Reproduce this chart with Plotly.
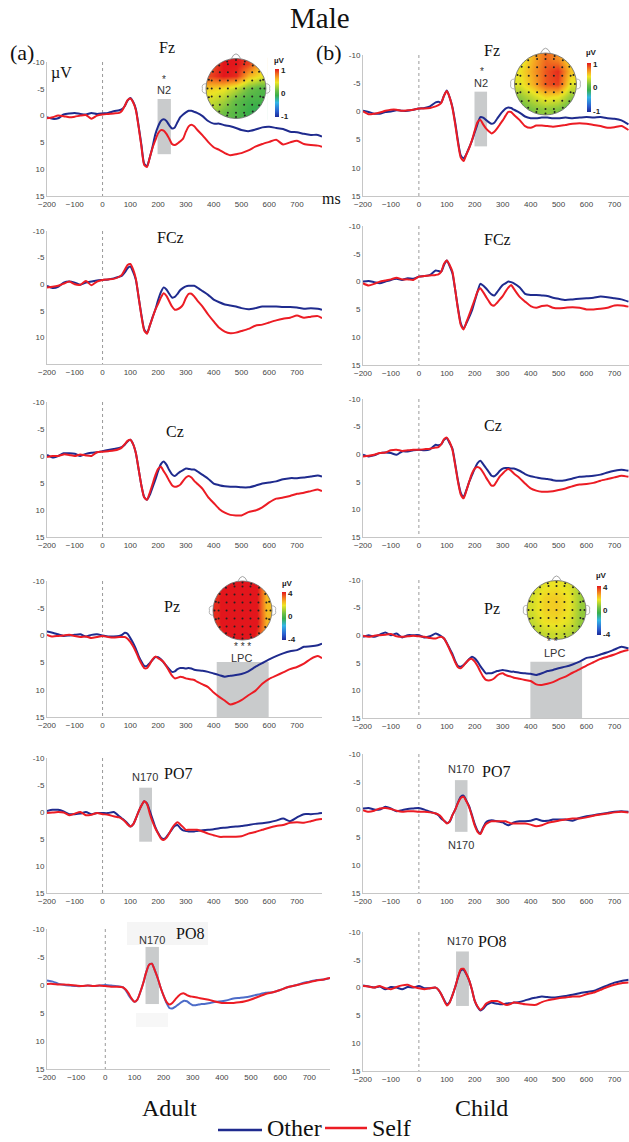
import numpy as np
import plotly.graph_objects as go

W, H = 629, 1142
N = None

# ---------------- time axis (ms) ----------------
T = [-200, -180, -160, -140, -120, -100, -80, -60, -40, -20,
     0, 20, 40,
     60, 70, 80, 90, 100, 110, 120, 130, 140, 150, 160, 170, 180, 190, 200,
     210, 220, 230, 240, 250, 260, 270, 280, 290, 300, 310, 320, 330, 340,
     360, 380, 400, 420, 440, 460, 480, 500,
     525, 550, 575, 600, 625, 650, 675, 700, 725, 750, 775, 790]

# ---------------- (a) Adult ----------------
adult_Fz_other = [0.3, 0.6, 0.5, -0.2, -0.4, -0.5, -0.3, -0.2, -0.5, -0.3,
                  -0.4, -0.5, -0.8,
                  -1.0, -1.2, -1.8, -2.8, -3.3, -2.6, -1.2, 2.0, 5.5, 9.0, 9.4, 7.8, 5.8, 3.5, 2.0,
                  1.0, 0.7, 1.0, 1.8, 2.4, 2.2, 1.2, 0.3, -0.2, -0.6, -0.9, -0.9, -0.7, -0.5,
                  0.1, 1.0, 1.5, 1.5, 1.8, 2.0, 2.3, 2.7,
                  2.9, 2.6, 2.2, 2.1, 2.3, 2.5, 3.0, 3.1, 3.4, 3.6, 3.6, 3.9]
adult_Fz_self = [0.5, 0.3, 0.0, 0.1, 0.3, 0.2, 0.0, -0.1, 0.6, 0.0,
                 -0.2, -0.3, -0.4,
                 -0.5, -0.9, -1.8, -2.9, -3.2, -2.5, -1.0, 2.2, 5.8, 9.2, 9.6, 7.8, 6.0, 4.6, 3.3,
                 2.7, 2.8, 3.4, 4.3, 5.3, 5.5, 5.2, 4.8, 4.3, 3.0, 2.0, 1.7, 2.0, 2.6,
                 3.7, 4.9, 5.9, 6.4, 7.0, 7.4, 7.2, 7.0,
                 6.5, 5.8, 5.3, 4.9, 4.5, 5.4, 5.0, 4.7, 5.3, 5.5, 5.6, 5.8]
adult_FCz_other = [0.3, 0.7, 0.5, -0.3, -0.5, -0.3, 0.1, -0.3, -0.5, -0.7,
                   -0.8, -0.9, -1.1,
                   -1.4, -1.6, -2.2, -3.0, -3.3, -2.3, -0.8, 2.5, 5.8, 8.5, 9.2, 7.8, 6.2, 4.8, 3.0,
                   1.5, 0.6, 1.0, 1.8, 2.5, 2.4, 1.8, 1.1, 0.7, 0.4, 0.3, 0.3, 0.3, 0.6,
                   1.3, 2.0, 2.9, 3.4, 3.8, 4.0, 4.2, 4.5,
                   4.7, 4.5, 4.2, 4.2, 4.2, 4.3, 4.3, 4.4, 4.6, 4.5, 4.6, 4.8]
adult_FCz_self = [0.6, 0.5, 0.3, -0.1, -0.5, 0.0, 0.1, -0.6, 0.2, -0.5,
                  -0.8, -0.9, -1.0,
                  -1.4, -1.8, -2.7, -3.6, -3.8, -2.8, -1.0, 2.5, 6.0, 8.7, 9.3, 7.8, 6.3, 4.8, 3.7,
                  2.5, 1.7, 2.2, 3.2, 4.2, 4.8, 4.7, 4.4, 3.8, 2.6, 1.8, 1.8, 2.3, 3.0,
                  4.2, 5.7, 7.0, 8.2, 8.9, 9.2, 9.1, 8.8,
                  8.4, 7.8, 7.6, 7.2, 6.8, 6.5, 6.3, 5.9, 6.3, 6.1, 6.0, 6.4]
adult_Cz_other = [-0.2, 0.3, 0.0, -0.5, -0.5, -0.4, 0.0, -0.4, -0.6, -0.7,
                  -0.9, -1.1, -1.3,
                  -1.5, -1.7, -2.1, -2.7, -3.0, -2.2, -0.5, 2.5, 5.5, 7.6, 8.1, 7.2, 5.8, 4.4, 2.8,
                  1.5, 1.0, 1.6, 2.6, 3.4, 3.7, 3.3, 2.9, 2.6, 2.3, 2.4, 2.5, 2.5, 2.8,
                  3.5, 4.2, 5.1, 5.4, 5.6, 5.7, 5.7, 5.8,
                  5.8, 5.5, 5.1, 4.9, 4.7, 4.3, 4.1, 4.1, 4.0, 3.8, 3.6, 3.8]
adult_Cz_self = [0.2, 0.0, 0.0, -0.3, -0.2, 0.0, -0.3, -0.1, 0.0, -0.7,
                 -0.8, -0.9, -1.0,
                 -1.3, -1.6, -2.2, -2.8, -3.0, -2.2, -0.5, 2.5, 5.5, 7.7, 8.1, 6.8, 5.2, 3.6, 2.4,
                 2.0, 2.8, 3.6, 4.6, 5.4, 5.7, 5.6, 5.3, 4.6, 4.0, 3.7, 4.0, 4.6, 5.1,
                 6.1, 7.6, 8.7, 9.8, 10.5, 10.9, 11.0, 11.0,
                 10.4, 10.1, 9.5, 8.6, 7.9, 7.7, 7.4, 7.0, 6.8, 6.5, 6.2, 6.5]
adult_Pz_other = [-0.7, -0.5, -0.2, 0.1, 0.0, -0.1, -0.2, 0.2, -0.1, -0.2,
                  0.0, 0.2, 0.2,
                  0.1, -0.1, -0.5, -0.3, 0.5, 1.4, 2.5, 3.8, 4.8, 5.6, 5.6, 5.1, 4.5, 4.0, 4.0,
                  4.4, 5.0, 5.6, 6.2, 6.7, 6.6, 6.2, 6.0, 6.0, 6.1, 6.0, 6.1, 6.3, 6.4,
                  6.5, 6.7, 7.0, 7.3, 7.6, 7.4, 7.3, 7.1,
                  6.6, 5.8, 5.1, 4.4, 3.8, 3.3, 2.9, 2.7, 2.1, 2.0, 1.8, 1.5]
adult_Pz_self = [-0.1, 0.2, 0.1, 0.0, -0.1, 0.1, 0.3, 0.2, 0.5, 0.3,
                 0.1, 0.3, 0.4,
                 0.3, 0.3, 0.3, 0.6, 1.2, 2.0, 3.0, 4.2, 5.2, 6.0, 6.0, 5.3, 4.4, 3.9, 4.2,
                 4.5, 4.9, 5.7, 6.6, 7.4, 7.9, 7.8, 7.6, 7.7, 7.9, 8.0, 8.1, 8.2, 8.5,
                 9.0, 9.5, 10.5, 11.3, 12.0, 12.7, 12.4, 11.9,
                 11.0, 10.2, 8.9, 8.0, 7.4, 6.8, 6.2, 5.8, 5.2, 4.3, 3.8, 4.2]
adult_PO7_other = [-0.2, -0.4, -0.4, -0.1, 0.4, 0.4, 0.3, 0.0, 0.4, 0.2,
                   0.2, 0.2, 0.0,
                   0.8, 1.2, 1.6, 2.1, 2.7, 2.3, 1.2, -0.1, -1.2, -2.0, -1.6, -0.2, 1.3, 2.8, 3.9,
                   4.7, 5.0, 4.6, 3.9, 3.2, 2.6, 2.4, 3.0, 3.4, 3.5, 3.6, 3.6, 3.6, 3.5,
                   3.4, 3.3, 3.2, 3.0, 2.9, 2.8, 2.7, 2.6,
                   2.4, 2.2, 2.1, 1.9, 1.6, 1.2, 1.7, 1.0, 0.4, 0.4, 0.3, 0.2]
adult_PO7_self = [0.2, 0.1, 0.0, 0.1, 0.6, 0.3, 0.0, 0.6, 0.5, 0.2,
                  0.4, 0.5, 0.8,
                  1.0, 1.3, 1.7, 2.3, 2.7, 2.3, 1.2, -0.1, -1.2, -2.0, -1.5, 0.3, 1.8, 3.0, 4.0,
                  4.9, 5.2, 4.8, 4.0, 3.0, 2.3, 1.9, 2.3, 2.8, 3.3, 3.3, 3.3, 3.3, 3.3,
                  3.6, 4.0, 4.3, 4.6, 4.6, 4.6, 4.6, 4.5,
                  4.0, 3.7, 3.3, 2.9, 2.6, 2.4, 2.0, 1.9, 2.0, 1.7, 1.4, 1.3]
adult_PO8_other = [-0.8, -0.6, -0.2, 0.0, 0.1, 0.2, 0.2, 0.1, 0.2, 0.1,
                   0.0, 0.1, 0.2,
                   0.4, 0.9, 1.8, 2.5, 3.0, 2.6, 1.3, -0.3, -2.2, -3.6, -3.8, -2.6, -1.2, 0.5, 1.9,
                   3.2, 4.1, 4.2, 3.9, 3.5, 3.1, 2.8, 2.9, 3.3, 3.6, 3.6, 3.5, 3.4, 3.4,
                   3.2, 3.0, 2.9, 2.7, 2.4, 2.3, 2.2, 2.0,
                   1.7, 1.4, 1.3, 0.9, 0.4, 0.1, -0.3, -0.6, -0.9, -1.0, -1.3, -1.4]
adult_PO8_self = [-0.2, -0.2, -0.1, -0.1, 0.0, 0.1, 0.2, 0.1, 0.2, 0.1,
                  0.2, 0.3, 0.3,
                  0.4, 0.8, 1.5, 2.4, 3.0, 2.6, 1.3, -0.3, -2.2, -3.6, -3.8, -2.6, -1.2, 0.5, 1.9,
                  3.0, 3.5, 3.2, 2.6, 2.0, 1.6, 1.5, 1.8, 2.0, 2.1, 2.2, 2.3, 2.4, 2.5,
                  2.7, 3.0, 3.2, 3.2, 3.2, 3.1, 2.9, 2.6,
                  2.1, 1.6, 1.3, 0.9, 0.4, 0.1, -0.2, -0.5, -0.8, -1.0, -1.3, -1.4]

# ---------------- (b) Child ----------------
child_Fz_other = [-0.1, 0.1, 0.4, 0.4, 0.1, 0.0, -0.2, -0.1, -0.1, -0.3,
                  -0.5, -0.6, -0.9,
                  -1.6, -1.7, -1.6, -2.8, -3.7, -2.5, -0.8, 2.0, 5.3, 7.8, 8.3, 7.6, 6.4, 5.2, 3.7,
                  2.2, 1.0, 1.1, 1.5, 1.9, 2.2, 2.0, 1.3, 0.6, 0.0, -0.5, -0.7, -0.6, -0.3,
                  0.2, 0.9, 1.2, 1.2, 1.1, 1.1, 1.2, 1.2,
                  1.1, 1.2, 1.1, 1.0, 1.1, 1.0, 1.2, 1.3, 1.6, 2.3, N, N]
child_Fz_self = [0.0, 0.5, 0.4, 0.2, -0.1, -0.3, -0.3, -0.1, -0.2, -0.3,
                 -0.5, -0.5, -0.6,
                 -0.9, -1.1, -1.5, -2.8, -3.6, -2.5, -0.6, 2.3, 5.6, 8.2, 8.8, 7.6, 6.5, 5.1, 3.4,
                 1.9, 1.5, 2.3, 3.0, 3.5, 3.9, 3.6, 3.0, 2.3, 1.6, 0.8, 0.1, 0.1, 0.6,
                 1.5, 2.6, 2.9, 2.5, 2.5, 2.6, 2.7, 2.6,
                 2.4, 2.2, 2.1, 2.2, 2.4, 2.6, 2.9, 2.8, 2.6, 3.3, N, N]
child_FCz_other = [0.0, -0.1, 0.1, 0.3, 0.0, -0.3, -0.5, -0.3, -0.6, -0.5,
                   -0.9, -1.0, -1.2,
                   -2.0, -1.9, -1.8, -3.0, -3.8, -2.8, -1.5, 1.5, 4.8, 7.5, 8.4, 7.5, 6.4, 5.2, 3.5,
                   1.8, 0.4, 0.7, 1.2, 1.8, 2.3, 2.5, 1.9, 1.2, 0.6, 0.3, 0.0, 0.1, 0.3,
                   1.0, 2.2, 2.4, 2.4, 2.5, 2.6, 2.9, 3.1,
                   3.3, 3.2, 3.1, 3.0, 2.9, 2.7, 2.8, 3.0, 3.2, 3.6, N, N]
child_FCz_self = [0.3, 0.7, 0.4, 0.0, -0.2, -0.4, -0.7, -0.4, -0.4, -0.3,
                  -0.9, -1.0, -1.1,
                  -1.2, -1.3, -1.8, -3.2, -3.8, -3.0, -1.8, 1.5, 5.0, 7.8, 8.6, 7.3, 6.0, 4.6, 3.2,
                  1.8, 1.2, 1.9, 2.7, 3.5, 4.2, 4.3, 3.8, 3.2, 2.6, 1.8, 1.1, 0.6, 1.3,
                  2.7, 3.6, 4.4, 4.7, 4.4, 4.3, 4.7, 4.8,
                  4.7, 4.6, 4.7, 5.0, 5.0, 4.9, 4.7, 4.3, 4.3, 4.5, N, N]
child_Cz_other = [0.1, 0.4, 0.2, -0.2, -0.3, -0.2, 0.1, -0.5, -0.5, -0.7,
                  -0.8, -0.7, -0.9,
                  -1.7, -1.6, -1.8, -2.6, -2.9, -2.0, -1.0, 1.8, 4.8, 7.0, 7.7, 6.5, 5.0, 3.8, 2.6,
                  1.6, 1.2, 1.8, 2.5, 3.2, 3.9, 4.0, 3.6, 3.0, 2.6, 2.5, 2.5, 2.6, 2.6,
                  3.0, 3.6, 4.0, 4.2, 4.4, 4.5, 4.7, 4.8,
                  4.7, 4.4, 4.1, 4.0, 3.9, 3.7, 3.3, 3.0, 2.8, 3.0, N, N]
child_Cz_self = [0.4, 0.3, 0.1, -0.2, -0.3, -0.7, -0.8, -0.6, -0.7, -0.8,
                 -0.8, -0.9, -1.0,
                 -1.2, -1.3, -1.8, -2.7, -3.0, -2.2, -0.8, 2.0, 5.0, 7.3, 8.0, 6.6, 5.0, 3.5, 2.6,
                 2.3, 2.6, 3.3, 4.2, 5.0, 5.7, 5.6, 4.8, 4.0, 3.5, 3.0, 2.7, 3.0, 3.5,
                 4.3, 5.3, 6.2, 6.6, 6.8, 6.8, 6.7, 6.5,
                 6.2, 5.8, 5.5, 5.4, 5.2, 4.8, 4.5, 4.2, 3.9, 4.1, N, N]
child_Pz_other = [0.3, 0.0, 0.3, -0.1, -0.5, 0.0, -0.3, 0.4, 0.0, 0.0,
                  0.0, 0.4, 0.2,
                  -0.3, -0.1, 0.2, 0.6, 1.4, 2.4, 3.4, 4.7, 5.6, 5.7, 5.4, 4.9, 4.3, 3.9, 4.2,
                  4.8, 5.6, 6.3, 6.9, 6.9, 6.9, 6.7, 6.5, 6.4, 6.3, 6.4, 6.5, 6.6, 6.6,
                  6.8, 6.9, 7.0, 7.2, 6.9, 6.5, 6.3, 6.0,
                  5.7, 5.3, 4.8, 4.1, 3.9, 3.5, 3.1, 2.6, 2.1, 2.4, N, N]
child_Pz_self = [0.1, 0.3, 0.1, 0.0, -0.1, -0.2, 0.2, 0.3, 0.2, 0.1,
                 0.2, 0.3, 0.5,
                 0.6, 0.4, 0.3, 0.6, 1.5, 2.6, 3.7, 4.9, 5.8, 6.0, 5.5, 4.9, 4.4, 4.3, 4.8,
                 5.6, 6.6, 7.5, 8.1, 8.2, 8.1, 7.8, 7.3, 7.0, 6.9, 7.2, 7.4, 7.5, 7.7,
                 7.9, 8.1, 8.3, 8.9, 9.0, 8.8, 8.5, 8.0,
                 7.5, 6.8, 6.2, 5.5, 4.9, 4.3, 3.9, 3.5, 3.0, 2.7, N, N]
child_PO7_other = [-0.2, -0.3, 0.0, 0.0, -0.5, -0.2, 0.3, 0.1, -0.1, -0.2,
                   -0.3, 0.0, 0.4,
                   0.7, 1.0, 1.6, 2.0, 2.4, 2.2, 1.0, 0.0, -1.3, -2.3, -2.5, -1.6, -0.6, 1.0, 2.6,
                   3.8, 4.3, 3.2, 2.3, 2.0, 1.9, 2.0, 2.1, 2.2, 2.3, 2.6, 2.8, 2.6, 2.3,
                   2.1, 2.1, 2.0, 1.7, 2.0, 2.0, 1.8, 1.8,
                   1.8, 2.0, 1.5, 1.2, 1.0, 0.8, 0.6, 0.4, 0.3, 0.4, N, N]
child_PO7_self = [0.1, 0.4, 0.2, -0.2, -0.3, -0.1, 0.2, 0.4, 0.3, 0.3,
                  0.4, 0.4, 0.5,
                  0.7, 0.9, 1.3, 2.0, 2.5, 2.1, 1.0, 0.0, -1.2, -2.1, -2.3, -1.5, -0.4, 1.2, 2.9,
                  4.0, 4.4, 3.4, 2.6, 2.3, 2.1, 2.1, 2.1, 2.1, 2.1, 2.1, 2.3, 2.5, 2.5,
                  2.5, 2.5, 2.7, 3.0, 2.8, 2.4, 2.2, 2.0,
                  1.8, 1.6, 1.6, 1.4, 1.1, 0.9, 0.7, 0.5, 0.4, 0.5, N, N]
child_PO8_other = [-0.4, -0.2, 0.0, -0.2, 0.3, -0.1, 0.0, 0.3, -0.1, 0.0,
                   -0.3, 0.1, 0.1,
                   0.0, 0.4, 1.2, 2.2, 3.0, 2.6, 1.4, -0.1, -1.8, -3.1, -3.2, -2.4, -1.3, 0.4, 2.4,
                   3.5, 4.1, 3.8, 3.2, 2.9, 2.7, 2.8, 2.9, 3.0, 3.0, 2.9, 2.8, 2.8, 2.7,
                   2.6, 2.3, 2.0, 1.8, 1.6, 1.7, 1.8, 1.7,
                   1.5, 1.3, 1.0, 0.8, 0.6, 0.1, -0.4, -0.9, -1.2, -1.4, N, N]
child_PO8_self = [-0.3, -0.2, 0.0, -0.3, 0.1, 0.3, -0.1, -0.4, -0.5, -0.1,
                  0.1, 0.3, 0.1,
                  0.0, 0.4, 1.2, 2.3, 3.2, 2.7, 1.4, -0.1, -1.9, -3.3, -3.4, -2.5, -1.3, 0.4, 2.4,
                  3.4, 4.0, 3.6, 2.9, 2.6, 2.4, 2.4, 2.4, 2.6, 2.9, 3.1, 3.1, 2.9, 2.7,
                  2.8, 3.0, 3.1, 3.1, 2.6, 2.3, 2.1, 1.9,
                  1.8, 1.6, 1.6, 1.2, 0.9, 0.4, -0.1, -0.5, -0.8, -0.9, N, N]

# ---------------- topographic maps (rows front -> back, cols left -> right) ----------------
topo_adult_Fz = [[0.85, 1.0, 1.0, 0.9, 0.6],
                 [0.9, 1.0, 0.95, 0.6, 0.45],
                 [0.5, 0.45, 0.3, 0.1, 0.0],
                 [0.35, 0.25, 0.05, -0.05, -0.05],
                 [0.25, 0.1, 0.0, -0.1, -0.2]]
topo_child_Fz = [[0.35, 0.6, 0.8, 0.7, 0.45],
                 [0.45, 0.65, 0.85, 0.95, 0.55],
                 [0.4, 0.6, 0.85, 0.9, 0.4],
                 [0.2, 0.35, 0.5, 0.45, 0.2],
                 [0.05, 0.15, 0.2, 0.15, 0.0]]
topo_adult_Pz = [[3.6, 5.0, 5.0, 4.5, 2.4],
                 [3.8, 5.0, 5.0, 4.5, 2.3],
                 [3.8, 5.0, 5.0, 4.5, 2.3],
                 [3.8, 5.0, 5.0, 4.5, 2.4],
                 [3.4, 4.5, 4.5, 4.0, 2.5]]
topo_child_Pz = [[1.3, 1.7, 1.8, 1.6, 1.0],
                 [1.5, 2.0, 2.1, 1.8, 0.9],
                 [1.5, 2.0, 2.1, 1.8, 0.8],
                 [1.3, 1.8, 1.9, 1.6, 0.8],
                 [1.0, 1.3, 1.4, 1.2, 0.7]]

OTHER_COLOR = "#1f2b8e"
SELF_COLOR = "#ec1c24"
SERIF = "Liberation Serif, Times New Roman, serif"
SANS = "Liberation Sans, Arial, sans-serif"
NARROW = "Liberation Sans Narrow, Arial Narrow, Liberation Sans, Arial, sans-serif"
TOPO_CS = [[0.0, '#1c2a99'], [0.12, '#2b5fd0'], [0.3, '#33b5e5'], [0.45, '#3aaf4a'],
           [0.55, '#6dbf45'], [0.72, '#ede524'], [0.8, '#f6b222'], [0.9, '#f06a1f'],
           [1.0, '#e3161c']]


def fx(x):
    return x / W


def fy(y):
    return 1 - y / H


def refs(n):
    s = '' if n == 1 else str(n)
    return 'xaxis' + s, 'yaxis' + s, 'x' + s, 'y' + s


fig = go.Figure()
lay = {}
shapes = []
annotations = []

# ================= head maps (drawn first: subplots 1-4, underneath the waveforms) =================
HX = [-0.82, -0.41, 0.0, 0.41, 0.82]

# white corner pieces that turn the square map into a disc (layout geometry)
mx, my = [], []
S = 1.06
corner_sets = [[(S, 0), (S, S), (0, S)], [(0, S), (-S, S), (-S, 0)],
               [(-S, 0), (-S, -S), (0, -S)], [(0, -S), (S, -S), (S, 0)]]
for q, cs in enumerate(corner_sets):
    for (a, b) in cs:
        mx.append(a)
        my.append(b)
    for ang in np.linspace((q + 1) * np.pi / 2, q * np.pi / 2, 40):
        mx.append(np.cos(ang))
        my.append(np.sin(ang))
    mx.append(None)
    my.append(None)

# electrode positions (layout geometry)
ex, ey = [], []
for gx in np.arange(-0.81, 0.82, 0.27):
    for gy in np.arange(-0.81, 0.82, 0.27):
        if gx * gx + gy * gy < 0.8:
            ex.append(gx)
            ey.append(gy)
for a in np.linspace(0, 2 * np.pi, 20, endpoint=False):
    ex.append(0.95 * np.cos(a))
    ey.append(0.95 * np.sin(a))

heads = [
    # cx, cy, r, grid, zmax, cbar x, cbar top, cbar bottom, µV pos, tick labels
    (236, 88.5, 30, topo_adult_Fz, 1, 275, 69, 117, (279, 60), ['1', '0', '-1']),
    (545.5, 84, 31, topo_child_Fz, 1, 587, 63, 112, (591, 53), ['1', '0', '-1']),
    (242.5, 610.5, 29.5, topo_adult_Pz, 4, 282, 592, 640, (287, 583), ['4', '0', '-4']),
    (556.5, 610, 29.5, topo_child_Pz, 4, 597, 586, 635, (601, 575), ['4', '0', '-4']),
]

for k, (cx, cy, r, grid, zm, cbx, cbt, cbb, mu, tt) in enumerate(heads):
    xk, yk, xa, ya = refs(1 + k)
    lay[xk] = dict(domain=[fx(cx - 1.25 * r), fx(cx + 1.25 * r)], range=[-1.25, 1.25],
                   anchor=ya, visible=False, fixedrange=True)
    lay[yk] = dict(domain=[fy(cy + 1.25 * r), fy(cy - 1.25 * r)], range=[-1.25, 1.25],
                   anchor=xa, visible=False, fixedrange=True)
    fig.add_trace(go.Heatmap(
        x=HX, y=HX, z=grid[::-1], zmin=-zm, zmax=zm, colorscale=TOPO_CS, zsmooth='best',
        xaxis=xa, yaxis=ya, hoverinfo='skip',
        colorbar=dict(x=fx(cbx), xanchor='left', y=fy((cbt + cbb) / 2), yanchor='middle',
                      len=cbb - cbt, lenmode='pixels', thickness=4, thicknessmode='pixels',
                      outlinewidth=0, xpad=0, ypad=0, ticks='',
                      tickvals=[zm * 0.97, 0, -zm * 0.97],
                      ticktext=['<b>' + s + '</b>' for s in tt],
                      tickfont=dict(family=SANS, size=8, color='#222'))))
    fig.add_trace(go.Scatter(x=mx, y=my, xaxis=xa, yaxis=ya, mode='lines', fill='toself',
                             fillcolor='white', line=dict(width=0, color='white'),
                             showlegend=False, hoverinfo='skip'))
    fig.add_trace(go.Scatter(x=ex, y=ey, xaxis=xa, yaxis=ya, mode='markers',
                             marker=dict(size=2, color='#222'), showlegend=False,
                             hoverinfo='skip'))
    shapes.append(dict(type='circle', xref=xa, yref=ya, x0=-1, x1=1, y0=-1, y1=1,
                       line=dict(color='#666', width=0.8), layer='above'))
    shapes.append(dict(type='path', xref=xa, yref=ya, path='M -0.16,0.99 Q 0,1.32 0.16,0.99',
                       line=dict(color='#999', width=0.9), layer='above'))
    shapes.append(dict(type='path', xref=xa, yref=ya,
                       path='M -0.99,0.16 Q -1.16,0.16 -1.12,0 Q -1.16,-0.16 -0.99,-0.16',
                       line=dict(color='#aaa', width=0.9), layer='above'))
    shapes.append(dict(type='path', xref=xa, yref=ya,
                       path='M 0.99,0.16 Q 1.16,0.16 1.12,0 Q 1.16,-0.16 0.99,-0.16',
                       line=dict(color='#aaa', width=0.9), layer='above'))
    annotations.append(dict(x=fx(mu[0]), y=fy(mu[1]), xref='paper', yref='paper',
                            text='<b>µV</b>', showarrow=False, xanchor='center',
                            yanchor='middle', font=dict(family=SANS, size=8, color='#222')))

# ================= ERP panels (subplots 5-16) =================
# title, other, self, x-domain px, y-domain px (top, bottom), x-range, title px
panels = [
    ("Fz", adult_Fz_other, adult_Fz_self, (47, 322), (62, 196), (-200, 790), (167, 47)),
    ("FCz", adult_FCz_other, adult_FCz_self, (47, 322), (231, 364), (-200, 790), (170, 238)),
    ("Cz", adult_Cz_other, adult_Cz_self, (47, 322), (402, 537), (-200, 790), (175, 431)),
    ("Pz", adult_Pz_other, adult_Pz_self, (47, 322), (581, 717), (-200, 790), (172, 606)),
    ("PO7", adult_PO7_other, adult_PO7_self, (47, 322), (758, 893), (-200, 790), (178, 773)),
    ("PO8", adult_PO8_other, adult_PO8_self, (47, 330), (929, 1069), (-200, 771), (190, 933)),
    ("Fz", child_Fz_other, child_Fz_self, (363, 629), (55, 196), (-200, 752), (492, 50)),
    ("FCz", child_FCz_other, child_FCz_self, (363, 629), (226, 365), (-200, 752), (497, 239)),
    ("Cz", child_Cz_other, child_Cz_self, (363, 629), (399, 537), (-200, 752), (493, 425)),
    ("Pz", child_Pz_other, child_Pz_self, (363, 629), (580, 718), (-200, 752), (492, 608)),
    ("PO7", child_PO7_other, child_PO7_self, (363, 629), (754, 893), (-200, 752), (496, 771)),
    ("PO8", child_PO8_other, child_PO8_self, (363, 629), (932, 1071), (-200, 752), (492, 941)),
]

# shaded windows: panel index, t0, t1, v0, v1
windows = [(0, 198, 246, -3.1, 7.2), (6, 199, 244, -3.5, 6.2),
           (3, 411, 598, 4.9, 15), (9, 399, 584, 4.8, 15),
           (4, 132, 178, -4.5, 5.5), (10, 129, 174, -5.3, 4.0),
           (5, 138, 184, -6.8, 3.4), (11, 133, 179, -6.5, 3.3)]

# component labels: panel index, t, v, text, size
labels = [(0, 220, -6.8, '*', 10), (0, 222, -4.7, 'N2', 11),
          (6, 225, -7.1, '*', 10), (6, 223, -5.0, 'N2', 11),
          (3, 504, 2.1, '* * *', 10), (3, 500, 4.2, 'LPC', 11),
          (9, 477, 1.2, '* *', 10), (9, 484, 3.2, 'LPC', 11),
          (4, 153, -6.4, 'N170', 11),
          (10, 150, -7.3, 'N170', 11), (10, 150, 6.4, 'N170', 11),
          (5, 161, -8.0, 'N170', 11),
          (11, 147, -8.3, 'N170', 11)]

P0 = 5
for i, (title, oth, slf, xd, yd, xr, tpos) in enumerate(panels):
    xk, yk, xa, ya = refs(P0 + i)
    blue = '#4d6cc8' if i == 5 else OTHER_COLOR
    fig.add_trace(go.Scatter(x=T, y=oth, xaxis=xa, yaxis=ya, mode='lines',
                             line=dict(color=blue, width=2, shape='spline', smoothing=0.6),
                             showlegend=False, hoverinfo='skip'))
    fig.add_trace(go.Scatter(x=T, y=slf, xaxis=xa, yaxis=ya, mode='lines',
                             line=dict(color=SELF_COLOR, width=2, shape='spline', smoothing=0.6),
                             showlegend=False, hoverinfo='skip'))
    lay[xk] = dict(domain=[fx(xd[0]), fx(xd[1])], range=list(xr), anchor=ya,
                   tickvals=list(range(-200, 701, 100)), ticks='', showline=True,
                   linecolor='#c6c6c6', linewidth=1, showgrid=False, zeroline=False,
                   automargin=False,
                   tickfont=dict(family=NARROW, size=8, color='#444'), fixedrange=True)
    yv = [-10, -5, 0, 5, 10] if i == 1 else [-10, -5, 0, 5, 10, 15]
    lay[yk] = dict(domain=[fy(yd[1]), fy(yd[0])], range=[15, -10], anchor=xa,
                   tickvals=yv, ticktext=[str(v) for v in yv], ticks='', showline=True,
                   linecolor='#c6c6c6', linewidth=1, showgrid=False, zeroline=False,
                   automargin=False,
                   tickfont=dict(family=NARROW, size=8, color='#444'), fixedrange=True)
    shapes.append(dict(type='line', xref=xa, yref=ya, x0=0, x1=0, y0=-10, y1=15,
                       line=dict(color='#9a9a9a', width=1, dash='dot'), layer='below'))
    annotations.append(dict(x=fx(tpos[0]), y=fy(tpos[1]), xref='paper', yref='paper',
                            text=title, showarrow=False, xanchor='center', yanchor='middle',
                            font=dict(family=SERIF, size=16, color='#111')))

for (pi, t0, t1, v0, v1) in windows:
    _, _, xa, ya = refs(P0 + pi)
    shapes.append(dict(type='rect', xref=xa, yref=ya, x0=t0, x1=t1, y0=v0, y1=v1,
                       fillcolor='#c9cbcc', line=dict(width=0), layer='below'))

for (pi, t, v, txt, sz) in labels:
    _, _, xa, ya = refs(P0 + pi)
    annotations.append(dict(x=t, y=v, xref=xa, yref=ya, text=txt, showarrow=False,
                            xanchor='center', yanchor='middle',
                            font=dict(family=SANS, size=sz, color='#333')))

# faint patches behind the PO8 (adult) labels
shapes.append(dict(type='rect', xref='paper', yref='paper', x0=fx(127), x1=fx(208),
                   y0=fy(945), y1=fy(922), fillcolor='#f5f5f5', line=dict(width=0), layer='below'))
shapes.append(dict(type='rect', xref='paper', yref='paper', x0=fx(136), x1=fx(168),
                   y0=fy(1027), y1=fy(1013), fillcolor='#f7f7f7', line=dict(width=0), layer='below'))

# ---------------- figure-level texts ----------------
texts = [("Male", 320, 18, 29), ("(a)", 22, 52, 22), ("(b)", 329, 52, 22),
         ("µV", 61, 73, 16), ("ms", 331, 199, 16),
         ("Adult", 169, 1108, 24), ("Child", 482, 1108, 24)]
for (txt, x, y, s) in texts:
    annotations.append(dict(x=fx(x), y=fy(y), xref='paper', yref='paper', text=txt,
                            showarrow=False, xanchor='center', yanchor='middle',
                            font=dict(family=SERIF, size=s, color='#111')))

# legend
shapes.append(dict(type='line', xref='paper', yref='paper', x0=fx(218), x1=fx(262),
                   y0=fy(1130), y1=fy(1130), line=dict(color=OTHER_COLOR, width=2.5)))
shapes.append(dict(type='line', xref='paper', yref='paper', x0=fx(325), x1=fx(367),
                   y0=fy(1128), y1=fy(1128), line=dict(color=SELF_COLOR, width=2.5)))
annotations.append(dict(x=fx(265), y=fy(1128), xref='paper', yref='paper', text='Other',
                        showarrow=False, xanchor='left', yanchor='middle',
                        font=dict(family=SERIF, size=24, color='#111')))
annotations.append(dict(x=fx(370), y=fy(1128), xref='paper', yref='paper', text='Self',
                        showarrow=False, xanchor='left', yanchor='middle',
                        font=dict(family=SERIF, size=24, color='#111')))

fig.update_layout(width=W, height=H, margin=dict(l=0, r=0, t=0, b=0, autoexpand=False),
                  paper_bgcolor='white', plot_bgcolor='rgba(0,0,0,0)',
                  showlegend=False, shapes=shapes, annotations=annotations, **lay)

fig.write_html("out.html")
